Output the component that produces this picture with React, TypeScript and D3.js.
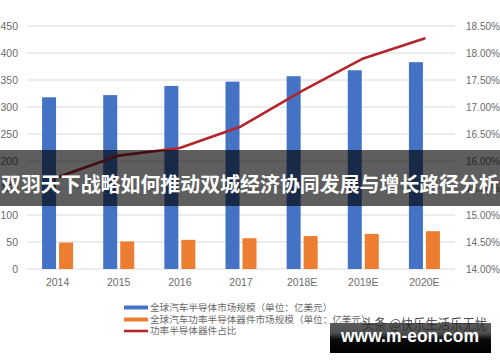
import React from 'react';
import * as d3 from 'd3';

const categories = ['2014', '2015', '2016', '2017', '2018E', '2019E', '2020E'];
const marketSize = [318, 322, 339, 347, 357, 368, 383];
const powerSize = [49, 51, 54, 57, 61, 65, 70];
const powerShare = [15.7, 16.1, 16.24, 16.64, 17.3, 17.9, 18.27];
const leftTicks = [0, 50, 100, 150, 200, 250, 300, 350, 400, 450];
const rightTicks = [14, 14.5, 15, 15.5, 16, 16.5, 17, 17.5, 18, 18.5];
const legendLabels = [
  '全球汽车半导体市场规模（单位：亿美元）',
  '全球汽车功率半导体器件市场规模（单位：亿美元）',
  '功率半导体器件占比',
];
const bannerText = '双羽天下战略如何推动双城经济协同发展与增长路径分析';
const watermarkTop = '头条 @快乐生活乐无忧';
const watermarkUrl = 'www.m-eon.com';

const W = 500;
const H = 362;
const BLUE = '#4472c4';
const ORANGE = '#ed7d31';
const RED = '#b3262e';
const LATIN = '"Liberation Sans", Arial, sans-serif';
const CJK = '"Noto Sans CJK SC", "Noto Sans", sans-serif';

export default function App() {
  const x = d3.scaleBand<string>().domain(categories).range([27, 455]);
  const yL = d3.scaleLinear().domain([0, 450]).range([269, 26]);
  const yR = d3.scaleLinear().domain([14, 18.5]).range([269, 26]);
  const bw = x.bandwidth();
  const barW = 14;
  const gap = 1.5;
  const cx = (c: string) => (x(c) as number) + bw / 2;

  const line = d3
    .line<number>()
    .x((_, i) => cx(categories[i]))
    .y((d) => yR(d))
    .curve(d3.curveLinear);

  const legendColors = [BLUE, ORANGE, RED];
  const legendWidths = [4, 4, 2.6];
  const legendY = [307.5, 319.5, 331];

  return (
    <div style={{ position: 'absolute', left: 0, top: 0, width: W, height: H, background: '#fff' }}>
      <svg width={W} height={H} viewBox={`0 0 ${W} ${H}`} style={{ display: 'block' }}>
        <defs>
          <linearGradient id="wmGrad" x1="0" y1="0" x2="0" y2="1">
            <stop offset="0" stopColor="#5c5c5c" />
            <stop offset="0.33" stopColor="#505050" />
            <stop offset="0.55" stopColor="#0a0a0a" />
            <stop offset="1" stopColor="#000" />
          </linearGradient>
        </defs>
        <rect x={0} y={0} width={W} height={H} fill="#fff" />
        {leftTicks.map((t) => (
          <line key={'g' + t} x1={27} x2={455} y1={yL(t)} y2={yL(t)} stroke="#d9d9d9" strokeWidth={1} />
        ))}
        {leftTicks.map((t) => (
          <text key={'l' + t} x={18} y={yL(t)} dy="0.35em" textAnchor="end" fontFamily={LATIN} fontSize={10.5} fill="#6b6b6b">
            {t}
          </text>
        ))}
        {rightTicks.map((t) => (
          <text key={'r' + t} x={466} y={yR(t)} dy="0.35em" textAnchor="start" fontFamily={LATIN} fontSize={10} fill="#6b6b6b">
            {t.toFixed(2) + '%'}
          </text>
        ))}
        {categories.map((c, i) => (
          <g key={c}>
            <rect x={cx(c) - gap - barW} y={yL(marketSize[i])} width={barW} height={yL(0) - yL(marketSize[i])} fill={BLUE} />
            <rect x={cx(c) + gap} y={yL(powerSize[i])} width={barW} height={yL(0) - yL(powerSize[i])} fill={ORANGE} />
            <text x={cx(c)} y={286} textAnchor="middle" fontFamily={LATIN} fontSize={10.5} fill="#6b6b6b">
              {c}
            </text>
          </g>
        ))}
        <path d={line(powerShare) || ''} fill="none" stroke={RED} strokeWidth={2.6} strokeLinejoin="round" strokeLinecap="round" />

        {legendLabels.map((lab, i) => (
          <g key={lab}>
            <line x1={124} x2={148} y1={legendY[i]} y2={legendY[i]} stroke={legendColors[i]} strokeWidth={legendWidths[i]} />
            <text x={150} y={legendY[i]} dy="0.35em" fontFamily={CJK} fontSize={9.6} fill="#6b6b6b">
              {lab}
            </text>
          </g>
        ))}

        {/* banner overlay */}
        <rect x={0} y={150} width={W} height={56} fill="rgba(0,0,0,0.63)" />
        <text x={250} y={185} dy="0.36em" textAnchor="middle" fontFamily={CJK} fontWeight={700} fontSize={20} fill="#fff" textLength={498} lengthAdjust="spacingAndGlyphs">
          {bannerText}
        </text>

        {/* watermark */}
        <rect x={330} y={323} width={161} height={30} fill="url(#wmGrad)" />
        <text x={362} y={324.5} dy="0.36em" fontFamily={CJK} fontSize={13.5} fill="#2e2e2e" opacity={0.85} textLength={125} lengthAdjust="spacingAndGlyphs">
          {watermarkTop}
        </text>
        <text x={341} y={342} fontFamily={LATIN} fontWeight={700} fontSize={19} fill="#fff" textLength={138} lengthAdjust="spacingAndGlyphs">
          {watermarkUrl}
        </text>
      </svg>
    </div>
  );
}
